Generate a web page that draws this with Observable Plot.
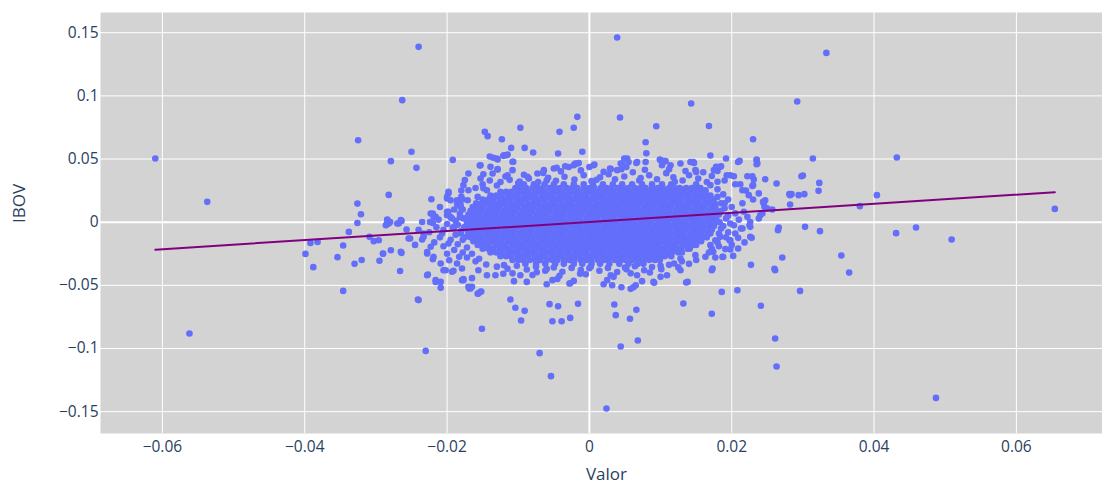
<!DOCTYPE html>
<html><head><meta charset="utf-8">
<script src="https://cdn.jsdelivr.net/npm/d3@7"></script>
<script src="https://cdn.jsdelivr.net/npm/@observablehq/plot@0.6"></script>
<style>body{margin:0;background:#fff;font-family:"Open Sans",sans-serif}</style>
</head><body><div id="chart"></div>
<script>
// Axis labels and ticks
const xLabel = "Valor";
const yLabel = "IBOV";
const xTicks = [-0.06, -0.04, -0.02, 0, 0.02, 0.04, 0.06];
const yTicks = [-0.15, -0.1, -0.05, 0, 0.05, 0.1, 0.15];

// Regression line
const slope = 0.36;
const intercept = 0.0002;

// Dense core of the cloud: rows of [IBOV value, Valor values]
const coreRows = [
 [0.030, [-0.0092,-0.0078,-0.0063,-0.0050,-0.0036,-0.0022,-0.0008,0.0005,0.0019,0.0033,0.0046,0.0060,0.0074,0.0088,0.0102,0.0115]],
 [0.027, [-0.0104,-0.0096,-0.0089,-0.0080,-0.0072,-0.0065,-0.0056,-0.0048,-0.0041,-0.0032,-0.0024,-0.0017,-0.0008,0.0000,0.0007,0.0016,0.0024,0.0031,0.0040,0.0048,0.0055,0.0064,0.0072,0.0079,0.0088,0.0096,0.0103,0.0112,0.0120,0.0127,0.0136,0.0144,0.0151,0.0156]],
 [0.024, [-0.0125,-0.0117,-0.0110,-0.0101,-0.0093,-0.0086,-0.0077,-0.0069,-0.0062,-0.0053,-0.0045,-0.0038,-0.0029,-0.0021,-0.0014,-0.0005,0.0003,0.0010,0.0019,0.0027,0.0034,0.0043,0.0051,0.0058,0.0067,0.0075,0.0082,0.0091,0.0099,0.0106,0.0115,0.0123,0.0130,0.0139,0.0147,0.0154,0.0163]],
 [0.021, [-0.0139,-0.0131,-0.0124,-0.0115,-0.0107,-0.0100,-0.0091,-0.0083,-0.0076,-0.0067,-0.0059,-0.0052,-0.0043,-0.0035,-0.0028,-0.0019,-0.0011,-0.0004,0.0005,0.0013,0.0020,0.0029,0.0037,0.0044,0.0053,0.0061,0.0068,0.0077,0.0085,0.0092,0.0101,0.0109,0.0116,0.0125,0.0133,0.0140,0.0149,0.0157,0.0164,0.0170]],
 [0.018, [-0.0150,-0.0142,-0.0135,-0.0126,-0.0118,-0.0111,-0.0102,-0.0094,-0.0087,-0.0078,-0.0070,-0.0063,-0.0054,-0.0046,-0.0039,-0.0030,-0.0022,-0.0015,-0.0006,0.0002,0.0009,0.0018,0.0026,0.0033,0.0042,0.0050,0.0057,0.0066,0.0074,0.0081,0.0090,0.0098,0.0105,0.0114,0.0122,0.0129,0.0138,0.0146,0.0153,0.0162,0.0170,0.0174]],
 [0.015, [-0.0159,-0.0151,-0.0144,-0.0135,-0.0127,-0.0120,-0.0111,-0.0103,-0.0096,-0.0087,-0.0079,-0.0072,-0.0063,-0.0055,-0.0048,-0.0039,-0.0031,-0.0024,-0.0015,-0.0007,0.0000,0.0009,0.0017,0.0024,0.0033,0.0041,0.0048,0.0057,0.0065,0.0072,0.0081,0.0089,0.0096,0.0105,0.0113,0.0120,0.0129,0.0137,0.0144,0.0153,0.0161,0.0168,0.0176]],
 [0.012, [-0.0164,-0.0156,-0.0149,-0.0140,-0.0132,-0.0125,-0.0116,-0.0108,-0.0101,-0.0092,-0.0084,-0.0077,-0.0068,-0.0060,-0.0053,-0.0044,-0.0036,-0.0029,-0.0020,-0.0012,-0.0005,0.0004,0.0012,0.0019,0.0028,0.0036,0.0043,0.0052,0.0060,0.0067,0.0076,0.0084,0.0091,0.0100,0.0108,0.0115,0.0124,0.0132,0.0139,0.0148,0.0156,0.0163,0.0172,0.0177]],
 [0.009, [-0.0167,-0.0159,-0.0152,-0.0143,-0.0135,-0.0128,-0.0119,-0.0111,-0.0104,-0.0095,-0.0087,-0.0080,-0.0071,-0.0063,-0.0056,-0.0047,-0.0039,-0.0032,-0.0023,-0.0015,-0.0008,0.0001,0.0009,0.0016,0.0025,0.0033,0.0040,0.0049,0.0057,0.0064,0.0073,0.0081,0.0088,0.0097,0.0105,0.0112,0.0121,0.0129,0.0136,0.0145,0.0153,0.0160,0.0169,0.0177]],
 [0.006, [-0.0170,-0.0162,-0.0155,-0.0146,-0.0138,-0.0131,-0.0122,-0.0114,-0.0107,-0.0098,-0.0090,-0.0083,-0.0074,-0.0066,-0.0059,-0.0050,-0.0042,-0.0035,-0.0026,-0.0018,-0.0011,-0.0002,0.0006,0.0013,0.0022,0.0030,0.0037,0.0046,0.0054,0.0061,0.0070,0.0078,0.0085,0.0094,0.0102,0.0109,0.0118,0.0126,0.0133,0.0142,0.0150,0.0157,0.0166,0.0174,0.0178]],
 [0.003, [-0.0172,-0.0164,-0.0157,-0.0148,-0.0140,-0.0133,-0.0124,-0.0116,-0.0109,-0.0100,-0.0092,-0.0085,-0.0076,-0.0068,-0.0061,-0.0052,-0.0044,-0.0037,-0.0028,-0.0020,-0.0013,-0.0004,0.0004,0.0011,0.0020,0.0028,0.0035,0.0044,0.0052,0.0059,0.0068,0.0076,0.0083,0.0092,0.0100,0.0107,0.0116,0.0124,0.0131,0.0140,0.0148,0.0155,0.0164,0.0172,0.0178]],
 [0.000, [-0.0172,-0.0168,-0.0160,-0.0153,-0.0144,-0.0136,-0.0129,-0.0120,-0.0112,-0.0105,-0.0096,-0.0088,-0.0081,-0.0072,-0.0064,-0.0057,-0.0048,-0.0040,-0.0033,-0.0024,-0.0016,-0.0009,0.0000,0.0008,0.0015,0.0024,0.0032,0.0039,0.0048,0.0056,0.0063,0.0072,0.0080,0.0087,0.0096,0.0104,0.0111,0.0120,0.0128,0.0135,0.0144,0.0152,0.0159,0.0168,0.0176]],
 [-0.003, [-0.0172,-0.0164,-0.0157,-0.0148,-0.0140,-0.0133,-0.0124,-0.0116,-0.0109,-0.0100,-0.0092,-0.0085,-0.0076,-0.0068,-0.0061,-0.0052,-0.0044,-0.0037,-0.0028,-0.0020,-0.0013,-0.0004,0.0004,0.0011,0.0020,0.0028,0.0035,0.0044,0.0052,0.0059,0.0068,0.0076,0.0083,0.0092,0.0100,0.0107,0.0116,0.0124,0.0131,0.0140,0.0148,0.0155,0.0164,0.0172,0.0175]],
 [-0.006, [-0.0171,-0.0167,-0.0159,-0.0152,-0.0143,-0.0135,-0.0128,-0.0119,-0.0111,-0.0104,-0.0095,-0.0087,-0.0080,-0.0071,-0.0063,-0.0056,-0.0047,-0.0039,-0.0032,-0.0023,-0.0015,-0.0008,0.0001,0.0009,0.0016,0.0025,0.0033,0.0040,0.0049,0.0057,0.0064,0.0073,0.0081,0.0088,0.0097,0.0105,0.0112,0.0121,0.0129,0.0136,0.0145,0.0153,0.0160,0.0169,0.0172]],
 [-0.009, [-0.0170,-0.0162,-0.0155,-0.0146,-0.0138,-0.0131,-0.0122,-0.0114,-0.0107,-0.0098,-0.0090,-0.0083,-0.0074,-0.0066,-0.0059,-0.0050,-0.0042,-0.0035,-0.0026,-0.0018,-0.0011,-0.0002,0.0006,0.0013,0.0022,0.0030,0.0037,0.0046,0.0054,0.0061,0.0070,0.0078,0.0085,0.0094,0.0102,0.0109,0.0118,0.0126,0.0133,0.0142,0.0150,0.0157,0.0166,0.0170]],
 [-0.012, [-0.0167,-0.0159,-0.0152,-0.0143,-0.0135,-0.0128,-0.0119,-0.0111,-0.0104,-0.0095,-0.0087,-0.0080,-0.0071,-0.0063,-0.0056,-0.0047,-0.0039,-0.0032,-0.0023,-0.0015,-0.0008,0.0001,0.0009,0.0016,0.0025,0.0033,0.0040,0.0049,0.0057,0.0064,0.0073,0.0081,0.0088,0.0097,0.0105,0.0112,0.0121,0.0129,0.0136,0.0145,0.0153,0.0160,0.0165]],
 [-0.015, [-0.0163,-0.0155,-0.0148,-0.0139,-0.0131,-0.0124,-0.0115,-0.0107,-0.0100,-0.0091,-0.0083,-0.0076,-0.0067,-0.0059,-0.0052,-0.0043,-0.0035,-0.0028,-0.0019,-0.0011,-0.0004,0.0005,0.0013,0.0020,0.0029,0.0037,0.0044,0.0053,0.0061,0.0068,0.0077,0.0085,0.0092,0.0101,0.0109,0.0116,0.0125,0.0133,0.0140,0.0149,0.0157]],
 [-0.018, [-0.0157,-0.0149,-0.0142,-0.0133,-0.0125,-0.0118,-0.0109,-0.0101,-0.0094,-0.0085,-0.0077,-0.0070,-0.0061,-0.0053,-0.0046,-0.0037,-0.0029,-0.0022,-0.0013,-0.0005,0.0002,0.0011,0.0019,0.0026,0.0035,0.0043,0.0050,0.0059,0.0067,0.0074,0.0083,0.0091,0.0098,0.0107,0.0115,0.0122,0.0131,0.0139,0.0146,0.0150]],
 [-0.021, [-0.0150,-0.0142,-0.0135,-0.0126,-0.0118,-0.0111,-0.0102,-0.0094,-0.0087,-0.0078,-0.0070,-0.0063,-0.0054,-0.0046,-0.0039,-0.0030,-0.0022,-0.0015,-0.0006,0.0002,0.0009,0.0018,0.0026,0.0033,0.0042,0.0050,0.0057,0.0066,0.0074,0.0081,0.0090,0.0098,0.0105,0.0114,0.0122,0.0129,0.0138,0.0141]],
 [-0.024, [-0.0139,-0.0131,-0.0124,-0.0115,-0.0107,-0.0100,-0.0091,-0.0083,-0.0076,-0.0067,-0.0059,-0.0052,-0.0043,-0.0035,-0.0028,-0.0019,-0.0011,-0.0004,0.0005,0.0013,0.0020,0.0029,0.0037,0.0044,0.0053,0.0061,0.0068,0.0077,0.0085,0.0092,0.0101,0.0109,0.0116,0.0125,0.0130]],
 [-0.027, [-0.0125,-0.0117,-0.0110,-0.0101,-0.0093,-0.0086,-0.0077,-0.0069,-0.0062,-0.0053,-0.0045,-0.0038,-0.0029,-0.0021,-0.0014,-0.0005,0.0003,0.0010,0.0019,0.0027,0.0034,0.0043,0.0051,0.0058,0.0067,0.0075,0.0082,0.0091,0.0099,0.0106,0.0115]],
 [-0.030, [-0.0108,-0.0100,-0.0093,-0.0084,-0.0076,-0.0069,-0.0060,-0.0052,-0.0045,-0.0036,-0.0028,-0.0021,-0.0012,-0.0004,0.0003,0.0012,0.0020,0.0027,0.0036,0.0044,0.0051,0.0060,0.0068,0.0075,0.0084,0.0092,0.0099]],
 [-0.033, [-0.0090,-0.0075,-0.0062,-0.0048,-0.0036,-0.0022,-0.0010,0.0003,0.0015,0.0028,0.0042,0.0055,0.0068,0.0076]]
];

// Edge of the dense cloud: [Valor, IBOV]
const edgePoints = [
 [-0.0125,0.0318],[-0.0112,0.0335],[-0.0098,0.0322],[-0.0085,0.0345],[-0.0072,0.0318],[-0.0058,0.0352],[-0.0047,0.0328],
 [-0.0035,0.0360],[-0.0021,0.0338],[-0.0008,0.0372],[0.0003,0.0325],[0.0015,0.0355],[0.0027,0.0380],[0.0036,0.0340],
 [0.0049,0.0362],[0.0061,0.0395],[0.0072,0.0350],[0.0084,0.0372],[0.0095,0.0340],[0.0108,0.0388],[0.0118,0.0355],
 [0.0131,0.0330],[0.0140,0.0372],[0.0153,0.0345],[0.0165,0.0318],[0.0172,0.0365],[-0.0140,0.0330],[-0.0118,0.0362],
 [-0.0092,0.0375],[-0.0065,0.0390],[-0.0040,0.0402],[-0.0012,0.0410],[0.0020,0.0398],[0.0045,0.0420],[0.0078,0.0415],
 [0.0112,0.0420],[0.0135,0.0405],[0.0160,0.0395],[0.0190,0.0330],[0.0205,0.0300],[-0.0150,0.0300],[-0.0160,0.0270],
 [-0.0130,-0.0352],[-0.0115,-0.0368],[-0.0102,-0.0345],[-0.0088,-0.0375],[-0.0075,-0.0352],[-0.0062,-0.0385],
 [-0.0050,-0.0358],[-0.0038,-0.0392],[-0.0025,-0.0362],[-0.0012,-0.0378],[0.0002,-0.0350],[0.0014,-0.0385],
 [0.0026,-0.0362],[0.0039,-0.0395],[0.0052,-0.0372],[0.0064,-0.0348],[0.0077,-0.0380],[0.0088,-0.0355],
 [0.0101,-0.0372],[0.0112,-0.0338],[0.0125,-0.0358],[0.0140,-0.0330],[-0.0145,-0.0335],[-0.0108,-0.0405],
 [-0.0080,-0.0418],[-0.0042,-0.0425],[-0.0005,-0.0412],[0.0030,-0.0420],[0.0058,-0.0405],[0.0085,-0.0398],
 [0.0150,-0.0300],[-0.0160,-0.0310],
 [-0.0178,0.0180],[-0.0185,0.0140],[-0.0190,0.0100],[-0.0182,0.0068],[-0.0195,0.0040],[-0.0188,0.0010],
 [-0.0200,-0.0015],[-0.0192,-0.0045],[-0.0205,-0.0060],[-0.0188,-0.0100],[-0.0210,-0.0120],[-0.0195,-0.0140],
 [-0.0185,-0.0175],[-0.0205,-0.0190],[-0.0190,-0.0220],[-0.0178,-0.0240],[-0.0200,-0.0250],[-0.0172,-0.0280],
 [-0.0215,-0.0040],[-0.0212,0.0020],[-0.0225,-0.0080],[-0.0218,-0.0160],[-0.0240,-0.0060],[-0.0245,-0.0180],
 [-0.0210,0.0120],[-0.0175,-0.0120],[-0.0176,-0.0040],[-0.0177,0.0030],[-0.0180,0.0250],
 [0.0180,0.0260],[0.0188,0.0220],[0.0195,0.0180],[0.0185,0.0150],[0.0200,0.0120],[0.0190,0.0110],[0.0205,0.0070],
 [0.0195,0.0050],[0.0210,0.0020],[0.0198,-0.0010],[0.0185,-0.0050],[0.0205,-0.0090],[0.0192,-0.0120],[0.0182,-0.0190],
 [0.0200,-0.0180],[0.0215,0.0150],[0.0220,0.0250],[0.0212,0.0300],[0.0182,0.0060],[0.0183,0.0000],[0.0182,-0.0090],
 [0.0180,0.0320],[0.0230,0.0180],[0.0218,-0.0160],[0.0168,-0.0240]
];

// Fringe and outlying points: [Valor, IBOV]
const outerPoints = [
 [-0.0610,0.0504],[-0.0537,0.0161],[-0.0562,-0.0881],[-0.0240,0.1388],[-0.0263,0.0966],[-0.0325,0.0649],
 [-0.0250,0.0557],[-0.0279,0.0483],[-0.0243,0.0430],[-0.0192,0.0493],[-0.0154,0.0449],[0.0039,0.1462],
 [0.0143,0.0940],[0.0043,0.0829],[0.0094,0.0760],[0.0168,0.0762],[-0.0017,0.0834],[-0.0022,0.0747],
 [-0.0042,0.0715],[-0.0097,0.0747],[-0.0147,0.0715],[-0.0143,0.0681],[-0.0123,0.0657],[-0.0110,0.0588],
 [-0.0091,0.0588],[-0.0079,0.0552],[-0.0044,0.0544],[-0.0010,0.0557],[0.0079,0.0633],[0.0080,0.0546],
 [0.0170,0.0528],[0.0333,0.1340],[0.0292,0.0955],[0.0230,0.0657],[0.0192,0.0504],[0.0211,0.0485],
 [0.0235,0.0496],[0.0235,0.0459],[0.0314,0.0504],[0.0432,0.0512],[0.0298,0.0364],[0.0300,0.0370],
 [0.0323,0.0311],[0.0263,0.0306],[0.0247,0.0340],[0.0404,0.0214],[0.0380,0.0127],[0.0654,0.0105],
 [0.0303,-0.0037],[0.0324,-0.0071],[0.0431,-0.0087],[0.0459,-0.0042],[0.0509,-0.0137],[0.0354,-0.0264],
 [0.0365,-0.0399],[0.0296,-0.0544],[0.0487,-0.1391],[0.0281,0.0222],[0.0284,0.0222],[0.0302,0.0222],
 [0.0322,0.0248],[0.0282,0.0140],[0.0257,0.0100],[0.0266,-0.0042],[0.0265,-0.0063],[0.0271,-0.0280],
 [0.0260,-0.0369],[0.0227,-0.0338],[0.0208,-0.0539],[0.0186,-0.0552],[0.0228,-0.0124],[0.0209,-0.0124],
 [0.0197,-0.0143],[0.0213,-0.0050],[0.0202,-0.0267],[0.0187,-0.0275],[0.0177,-0.0280],[0.0191,-0.0213],
 [0.0198,-0.0216],[0.0173,-0.0367],[0.0177,-0.0143],[0.0170,-0.0182],[0.0185,0.0443],[0.0180,0.0406],
 [0.0178,0.0439],[0.0222,0.0364],[0.0229,0.0364],[0.0231,0.0338],[0.0230,0.0293],[0.0198,0.0372],
 [0.0203,0.0364],[0.0247,0.0174],[0.0245,0.0148],[0.0246,0.0121],[0.0240,0.0055],[0.0238,0.0029],
 [0.0217,0.0082],[0.0222,0.0042],[0.0226,0.0002],[0.0225,-0.0024],[0.0229,0.0287],[0.0238,0.0228],
 [-0.0282,0.0216],[-0.0326,0.0147],[-0.0321,0.0063],[-0.0326,-0.0006],[-0.0338,-0.0077],[-0.0392,-0.0164],
 [-0.0382,-0.0156],[-0.0399,-0.0251],[-0.0388,-0.0356],[-0.0346,-0.0544],[-0.0354,-0.0277],[-0.0346,-0.0185],
 [-0.0330,-0.0330],[-0.0320,-0.0299],[-0.0309,-0.0116],[-0.0303,-0.0150],[-0.0296,-0.0143],[-0.0295,-0.0305],
 [-0.0290,-0.0250],[-0.0279,-0.0222],[-0.0264,-0.0243],[-0.0266,-0.0386],[-0.0241,-0.0612],[-0.0284,0.0021],
 [-0.0282,-0.0011],[-0.0285,-0.0019],[-0.0280,0.0002],[-0.0268,-0.0011],[-0.0264,0.0010],[-0.0257,-0.0058],
 [-0.0252,-0.0129],[-0.0235,0.0002],[-0.0233,-0.0090],[-0.0235,-0.0137],[-0.0222,0.0182],[-0.0220,0.0069],
 [-0.0216,0.0042],[-0.0224,0.0002],[-0.0220,-0.0006],[-0.0228,-0.0236],[-0.0220,-0.0293],[-0.0227,-0.0414],
 [-0.0216,-0.0459],[-0.0209,-0.0473],[-0.0209,-0.0520],[-0.0205,-0.0380],[-0.0191,-0.0385],[-0.0177,-0.0451],
 [-0.0169,-0.0525],[-0.0198,0.0229],[-0.0200,0.0188],[-0.0186,0.0174],[-0.0181,0.0135],[-0.0198,0.0082],
 [-0.0200,0.0055],[-0.0193,0.0029],[-0.0230,-0.1019],[-0.0167,-0.0525],[-0.0165,-0.0512],[-0.0157,-0.0567],
 [-0.0152,-0.0549],[-0.0179,-0.0459],[-0.0151,-0.0844],[-0.0111,-0.0612],[-0.0104,-0.0678],[-0.0091,-0.0702],
 [-0.0096,-0.0778],[-0.0070,-0.1037],[-0.0054,-0.1219],[-0.0056,-0.0649],[-0.0044,-0.0665],[-0.0016,-0.0646],
 [-0.0052,-0.0784],[-0.0039,-0.0784],[-0.0027,-0.0758],[0.0024,-0.1475],[0.0035,-0.0652],[0.0037,-0.0736],
 [0.0066,-0.0694],[0.0057,-0.0765],[0.0068,-0.0937],[0.0044,-0.0984],[0.0132,-0.0644],[0.0045,-0.0515],
 [0.0058,-0.0528],[0.0062,-0.0515],[0.0065,-0.0499],[0.0020,-0.0491],[0.0091,-0.0480],[0.0136,-0.0477],
 [0.0074,-0.0467],[-0.0028,-0.0485],[-0.0022,-0.0465],[-0.0060,-0.0491],[-0.0052,-0.0459],[-0.0106,-0.0467],
 [-0.0088,-0.0473],[0.0172,-0.0380],[0.0261,-0.0380],[0.0241,-0.0662],[0.0172,-0.0725],[0.0261,-0.0921],
 [0.0263,-0.1143],[-0.0135,0.0510],[-0.0129,0.0497],[-0.0120,0.0530],[-0.0115,0.0535],[-0.0153,0.0451],
 [-0.0139,0.0438],[-0.0129,0.0417],[-0.0107,0.0478],[-0.0108,0.0412],[-0.0115,0.0372],[-0.0170,0.0385],
 [-0.0175,0.0333],[-0.0177,0.0293],[-0.0153,0.0346],[-0.0149,0.0269],[-0.0144,0.0253],[-0.0087,0.0359],
 [-0.0073,0.0385],[-0.0064,0.0412],[-0.0050,0.0425],[-0.0034,0.0443],[-0.0022,0.0451],[-0.0017,0.0465],
 [0.0006,0.0451],[0.0029,0.0425],[0.0039,0.0412],[0.0044,0.0465],[0.0053,0.0504],[0.0055,0.0477],
 [0.0067,0.0477],[0.0079,0.0477],[0.0100,0.0491],[0.0107,0.0483],[0.0114,0.0451],[0.0128,0.0465],
 [0.0146,0.0477],[0.0149,0.0412],[0.0175,0.0412],[0.0184,0.0439],[0.0193,0.0372],[0.0209,0.0477],
 [0.0235,0.0491],[0.0236,0.0464],[0.0215,0.0253],[0.0224,0.0214],[0.0282,0.0214],[0.0294,0.0214],
 [0.0244,0.0161],[0.0250,0.0108],[0.0243,0.0069],[0.0226,-0.0037],[0.0215,-0.0050],[0.0203,-0.0024],
 [0.0198,-0.0143],[0.0184,-0.0116],[0.0226,-0.0116],[0.0209,-0.0208],[0.0188,-0.0274],[0.0174,-0.0235],
 [0.0163,-0.0274],[0.0149,-0.0261],[0.0138,-0.0473],[0.0128,-0.0380],[0.0119,-0.0327],[0.0128,-0.0287],
 [0.0109,-0.0420],[0.0090,-0.0473],[0.0100,-0.0433],[0.0067,-0.0420],[0.0034,-0.0433],[0.0032,-0.0499],
 [0.0025,-0.0459],[-0.0013,-0.0408],[-0.0027,-0.0483],[-0.0045,-0.0449],[-0.0074,-0.0396],[-0.0097,-0.0420],
 [-0.0121,-0.0408],[-0.0132,-0.0420],[-0.0144,-0.0420],[-0.0156,-0.0380],[-0.0165,-0.0443],[-0.0170,-0.0511],
 [-0.0153,-0.0551],[-0.0156,-0.0564],[-0.0216,-0.0473],[-0.0228,-0.0420],[-0.0240,-0.0617],[-0.0193,-0.0393],
 [-0.0202,-0.0380],[-0.0177,-0.0459],[-0.0179,-0.0367],[-0.0219,-0.0274],[-0.0228,-0.0248],[-0.0209,-0.0327],
 [-0.0197,-0.0301],[-0.0186,-0.0327],[-0.0183,-0.0274],[-0.0265,-0.0235],[-0.0290,-0.0248],[-0.0254,-0.0129],
 [-0.0233,-0.0116],[-0.0223,-0.0195],[-0.0207,-0.0089],[-0.0190,-0.0037],[-0.0198,-0.0169],[-0.0181,-0.0089],
 [-0.0284,0.0016],[-0.0286,-0.0024],[-0.0270,-0.0011],[-0.0265,0.0016],[-0.0223,0.0069],[-0.0219,0.0042],
 [-0.0200,0.0082],[-0.0186,0.0148],[-0.0195,0.0174],[-0.0181,0.0121],[-0.0169,0.0055],[-0.0198,0.0240],
 [-0.0200,0.0200],[-0.0171,0.0174],[-0.0157,0.0200],[-0.0170,0.0253],[-0.0140,0.0520],[-0.0130,0.0504],
 [-0.0121,0.0525],[-0.0116,0.0530],[-0.0108,0.0478],[-0.0149,0.0380],[-0.0136,0.0385],[-0.0129,0.0420],
 [0.0049,0.0504],[0.0046,0.0464],[0.0052,0.0437],[0.0066,0.0469],[0.0099,0.0496],[0.0105,0.0483],
 [0.0102,0.0451],[0.0142,0.0477],[0.0147,0.0469],[0.0150,0.0398],[0.0179,0.0437],[-0.0046,0.0430],
 [-0.0029,0.0437],[-0.0020,0.0464],[-0.0015,0.0469],[0.0000,0.0437],[0.0007,0.0456],[0.0030,0.0420],
 [0.0163,0.0253],[0.0170,0.0293],[0.0180,0.0200],[0.0190,0.0150],[0.0185,0.0090],[0.0192,0.0030],
 [0.0188,-0.0030],[0.0195,-0.0080],[0.0180,-0.0160],[0.0172,-0.0210],[-0.0180,0.0200],[-0.0178,0.0100],
 [-0.0182,0.0040],[-0.0185,-0.0020],[-0.0180,-0.0070],[-0.0178,-0.0140],[-0.0172,-0.0200],[-0.0165,-0.0250],
 [-0.0155,-0.0290],[-0.0100,0.0310],[-0.0060,0.0330],[0.0010,0.0335],[0.0070,0.0330],[0.0120,0.0320],
 [0.0150,0.0300],[-0.0130,0.0290],[-0.0120,-0.0340],[-0.0060,-0.0370],[0.0000,-0.0365],[0.0050,-0.0360],
 [0.0100,-0.0345],[0.0130,-0.0310]
];

const points = [];
for (const [yv, xs] of coreRows) for (const xv of xs) points.push({valor: xv, ibov: yv});
for (const [xv, yv] of edgePoints) points.push({valor: xv, ibov: yv});
for (const [xv, yv] of outerPoints) points.push({valor: xv, ibov: yv});

const [xMin, xMax] = d3.extent(points, d => d.valor);
const fitLine = [xMin, xMax].map(v => ({valor: v, ibov: intercept + slope * v}));

const fmt = d => d === 0 ? "0" : String(d).replace("-", "\u2212");

const chart = Plot.plot({
  width: 1102,
  height: 485,
  marginLeft: 100,
  marginRight: 0,
  marginTop: 12,
  marginBottom: 52,
  style: {fontFamily: '"Open Sans", sans-serif', color: "#2a3f5f", background: "#fff"},
  x: {domain: [-0.0687, 0.0721]},
  y: {domain: [-0.1673, 0.166]},
  marks: [
    Plot.frame({fill: "#d3d3d3", stroke: "none"}),
    Plot.gridX(xTicks.filter(d => d !== 0), {stroke: "#fff", strokeOpacity: 1, strokeWidth: 1}),
    Plot.gridY(yTicks.filter(d => d !== 0), {stroke: "#fff", strokeOpacity: 1, strokeWidth: 1}),
    Plot.ruleX([0], {stroke: "#fff", strokeWidth: 2}),
    Plot.ruleY([0], {stroke: "#fff", strokeWidth: 2}),
    Plot.axisX(xTicks, {tickSize: 0, tickPadding: 7, tickFormat: fmt, fontSize: 15.5, label: null}),
    Plot.axisY(yTicks, {tickSize: 0, tickPadding: 2, tickFormat: fmt, fontSize: 15.5, label: null}),
    Plot.dot(points, {x: "valor", y: "ibov", r: 3.3, fill: "#636efa", stroke: "none"}),
    Plot.line(fitLine, {x: "valor", y: "ibov", stroke: "#800080", strokeWidth: 2}),
    Plot.text([xLabel], {frameAnchor: "bottom", dy: 41, dx: 5, fontSize: 17, fill: "#2a3f5f", lineAnchor: "middle"}),
    Plot.text([yLabel], {frameAnchor: "left", dx: -81, rotate: -90, fontSize: 17, fill: "#2a3f5f", lineAnchor: "middle"})
  ]
});
document.getElementById("chart").appendChild(chart);
</script>
</body></html>
